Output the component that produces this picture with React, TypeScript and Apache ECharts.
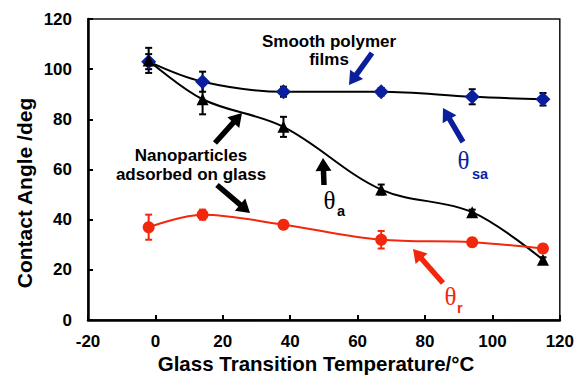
import React, { useEffect, useRef } from "react";
import * as echarts from "echarts";

const temps = [-2, 14, 38, 67, 94, 115];
const thetaSa = [103, 95, 91, 91, 89, 88];
const thetaSaErr = [3, 4, 2, 1.5, 3, 2.5];
const thetaA = [103.5, 88, 77, 52, 43, 24];
const thetaAErr = [5, 6, 4, 2, 1, 1];
const thetaR = [37, 42, 38, 32, 31, 28.5];
const thetaRErr = [5, 2, 1.5, 3.5, 1, 1.5];

const BLUE = "#0B1F9E";
const RED = "#F2280C";
const FONT = "'Liberation Sans', Arial, sans-serif";
const SERIF = "'Liberation Serif', 'Times New Roman', serif";

function arrow(tx: number, ty: number, hx: number, hy: number, color: string) {
  const shaft = 5.5, headW = 16, headL = 13;
  const dx = hx - tx, dy = hy - ty;
  const len = Math.sqrt(dx * dx + dy * dy);
  const ux = dx / len, uy = dy / len;
  const nx = -uy, ny = ux;
  const bx = hx - ux * headL, by = hy - uy * headL;
  const pts = [
    [tx + nx * shaft / 2, ty + ny * shaft / 2],
    [bx + nx * shaft / 2, by + ny * shaft / 2],
    [bx + nx * headW / 2, by + ny * headW / 2],
    [hx, hy],
    [bx - nx * headW / 2, by - ny * headW / 2],
    [bx - nx * shaft / 2, by - ny * shaft / 2],
    [tx - nx * shaft / 2, ty - ny * shaft / 2],
  ];
  return { type: "polygon", shape: { points: pts }, style: { fill: color }, z: 100 };
}

function errSeries(ys: number[], errs: number[], color: string) {
  return {
    type: "custom",
    z: 1,
    data: temps.map((x, i) => [x, ys[i], errs[i]]),
    encode: { x: 0, y: 1 },
    renderItem: (params: any, api: any) => {
      const x = api.value(0), y = api.value(1), e = api.value(2);
      const t = api.coord([x, y + e]);
      const b = api.coord([x, y - e]);
      const st = { stroke: color, lineWidth: 2 };
      return {
        type: "group",
        children: [
          { type: "line", shape: { x1: t[0], y1: t[1], x2: b[0], y2: b[1] }, style: st },
          { type: "line", shape: { x1: t[0] - 3.5, y1: t[1], x2: t[0] + 3.5, y2: t[1] }, style: st },
          { type: "line", shape: { x1: b[0] - 3.5, y1: b[1], x2: b[0] + 3.5, y2: b[1] }, style: st },
        ],
      };
    },
  };
}

export default function App() {
  const ref = useRef<HTMLDivElement>(null);
  useEffect(() => {
    if (!ref.current) return;
    const chart = echarts.init(ref.current, null, { renderer: "svg" });
    const axisLabel = { color: "#000", fontSize: 17, fontWeight: "bold", fontFamily: FONT };
    chart.setOption({
      animation: false,
      backgroundColor: "#fff",
      grid: { left: 88, right: 17, top: 19, bottom: 63, show: true, borderColor: "#111", borderWidth: 1.5 },
      xAxis: {
        type: "value", min: -20, max: 120, interval: 20,
        axisLine: { show: true, onZero: false, lineStyle: { color: "#000", width: 2.5 } },
        axisTick: { show: true, inside: true, length: 5, lineStyle: { color: "#000", width: 2 } },
        axisLabel: { ...axisLabel, margin: 13 },
        splitLine: { show: false },
      },
      yAxis: {
        type: "value", min: 0, max: 120, interval: 20,
        axisLine: { show: true, onZero: false, lineStyle: { color: "#000", width: 2.5 } },
        axisTick: { show: true, inside: true, length: 5, lineStyle: { color: "#000", width: 2 } },
        axisLabel: { ...axisLabel, margin: 16 },
        splitLine: { show: false },
      },
      series: [
        errSeries(thetaSa, thetaSaErr, "#000"),
        errSeries(thetaA, thetaAErr, "#000"),
        errSeries(thetaR, thetaRErr, RED),
        {
          type: "line", name: "θsa", z: 3, smooth: 0.35,
          data: temps.map((x, i) => [x, thetaSa[i]]),
          symbol: "diamond", symbolSize: 15,
          itemStyle: { color: BLUE },
          lineStyle: { color: "#000", width: 2 },
        },
        {
          type: "line", name: "θa", z: 3, smooth: 0.35,
          data: temps.map((x, i) => [x, thetaA[i]]),
          symbol: "triangle", symbolSize: 12,
          itemStyle: { color: "#000" },
          lineStyle: { color: "#000", width: 2 },
        },
        {
          type: "line", name: "θr", z: 3, smooth: 0.35,
          data: temps.map((x, i) => [x, thetaR[i]]),
          symbol: "circle", symbolSize: 12,
          itemStyle: { color: RED },
          lineStyle: { color: RED, width: 2 },
        },
      ],
      graphic: [
        {
          type: "text", x: 24, y: 193, rotation: Math.PI / 2,
          style: { text: "Contact Angle /deg", fill: "#000", font: `bold 21px ${FONT}`, align: "center", verticalAlign: "middle" },
        },
        {
          type: "text", x: 316, y: 363,
          style: { text: "Glass Transition Temperature/°C", fill: "#000", font: `bold 20.5px ${FONT}`, align: "center", verticalAlign: "middle" },
        },
        {
          type: "text", x: 329, y: 50,
          style: { text: "Smooth polymer\nfilms", fill: "#000", font: `bold 17px ${FONT}`, lineHeight: 18, align: "center", verticalAlign: "middle" },
        },
        {
          type: "text", x: 191, y: 164.5,
          style: { text: "Nanoparticles\nadsorbed on glass", fill: "#000", font: `bold 17px ${FONT}`, lineHeight: 19, align: "center", verticalAlign: "middle" },
        },
        { type: "text", x: 463.5, y: 160, style: { text: "θ", fill: BLUE, font: `25px ${SERIF}`, align: "center", verticalAlign: "middle" } },
        { type: "text", x: 472, y: 174, style: { text: "sa", fill: BLUE, font: `bold 14.5px ${FONT}`, align: "left", verticalAlign: "middle" } },
        { type: "text", x: 329.5, y: 200, style: { text: "θ", fill: "#000", font: `25px ${SERIF}`, align: "center", verticalAlign: "middle" } },
        { type: "text", x: 337, y: 211, style: { text: "a", fill: "#000", font: `bold 14.5px ${FONT}`, align: "left", verticalAlign: "middle" } },
        { type: "text", x: 450.5, y: 296, style: { text: "θ", fill: RED, font: `25px ${SERIF}`, align: "center", verticalAlign: "middle" } },
        { type: "text", x: 457, y: 308, style: { text: "r", fill: RED, font: `bold 14.5px ${FONT}`, align: "left", verticalAlign: "middle" } },
        arrow(372, 53, 349, 85, BLUE),
        arrow(463, 142, 443, 108, BLUE),
        arrow(215, 143, 242, 113, "#000"),
        arrow(217, 185, 250, 213, "#000"),
        arrow(324, 185, 323, 158, "#000"),
        arrow(443, 283, 413, 249, RED),
      ],
    });
    return () => chart.dispose();
  }, []);
  return <div ref={ref} style={{ position: "fixed", left: 0, top: 0, width: 577, height: 383 }} />;
}
